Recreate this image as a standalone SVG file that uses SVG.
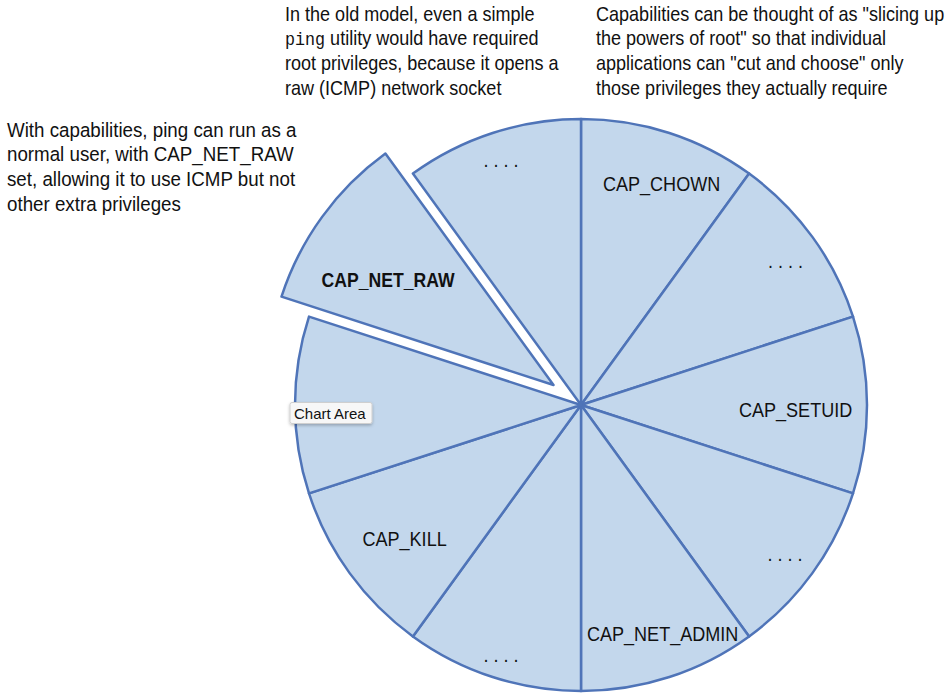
<svg xmlns="http://www.w3.org/2000/svg" width="952" height="695" viewBox="0 0 952 695">
<defs>
<style>
.sl{fill:#c3d7ec;stroke:#4f74b8;stroke-width:2.5;stroke-linejoin:round}
.t{font-family:"Liberation Sans",Arial,sans-serif;font-size:20.5px;fill:#111}
.lb{font-family:"Liberation Sans",Arial,sans-serif;font-size:20.5px;fill:#111}
.mid{text-anchor:middle}
.m{font-family:"Liberation Mono","Courier New",monospace;font-size:19px}
</style>
<filter id="sh" x="-20%" y="-30%" width="140%" height="170%"><feDropShadow dx="0" dy="1.5" stdDeviation="1.5" flood-color="#000" flood-opacity="0.25"/></filter>
</defs>
<rect width="952" height="695" fill="#fff"/>
<g id="pie">
<path id="s1" class="sl" d="M581,405 L581,119 A286,286 0 0 1 749.1,173.6 Z"/>
<path id="s2" class="sl" d="M581,405 L749.1,173.6 A286,286 0 0 1 853,316.6 Z"/>
<path id="s3" class="sl" d="M581,405 L853,316.6 A286,286 0 0 1 853,493.4 Z"/>
<path id="s4" class="sl" d="M581,405 L853,493.4 A286,286 0 0 1 749.1,636.4 Z"/>
<path id="s5" class="sl" d="M581,405 L749.1,636.4 A286,286 0 0 1 581,691 Z"/>
<path id="s6" class="sl" d="M581,405 L581,691 A286,286 0 0 1 412.9,636.4 Z"/>
<path id="s7" class="sl" d="M581,405 L412.9,636.4 A286,286 0 0 1 309,493.4 Z"/>
<path id="s8" class="sl" d="M581,405 L309,493.4 A286,286 0 0 1 309,316.6 Z"/>
<path id="s9" class="sl" d="M553.5,385 L281.5,296.6 A286,286 0 0 1 385.4,153.6 Z"/>
<path id="s10" class="sl" d="M581,405 L412.9,173.6 A286,286 0 0 1 581,119 Z"/>
</g>
<g id="labels">
<text class="lb" transform="translate(603,191) scale(0.88,1)">CAP_CHOWN</text>
<text class="lb mid" transform="translate(785.5,268) scale(0.88,1)">. . . .</text>
<text class="lb" transform="translate(739,417) scale(0.88,1)">CAP_SETUID</text>
<text class="lb mid" transform="translate(785,561) scale(0.88,1)">. . . .</text>
<text class="lb" transform="translate(587,640.5) scale(0.88,1)">CAP_NET_ADMIN</text>
<text class="lb mid" transform="translate(501,662) scale(0.88,1)">. . . .</text>
<text class="lb" transform="translate(362.5,545.5) scale(0.88,1)">CAP_KILL</text>
<text class="lb" font-weight="bold" transform="translate(321.5,286.5) scale(0.86,1)">CAP_NET_RAW</text>
<text class="lb mid" transform="translate(501,167) scale(0.88,1)">. . . .</text>
</g>
<g id="tooltip">
<rect x="290" y="402.5" width="82" height="21" rx="2" fill="#f7f7f7" stroke="#cfcfcf" filter="url(#sh)"/>
<text x="294" y="418.5" font-family="'Liberation Sans',Arial,sans-serif" font-size="15" fill="#111">Chart Area</text>
</g>
<g id="note-old">
<text class="t" transform="translate(285,20.5) scale(0.88,1)">In the old model, even a simple</text>
<text class="t" transform="translate(285,45) scale(0.88,1)"><tspan class="m">ping</tspan> utility would have required</text>
<text class="t" transform="translate(285,70) scale(0.88,1)">root privileges, because it opens a</text>
<text class="t" transform="translate(285,94.5) scale(0.88,1)">raw (ICMP) network socket</text>
</g>
<g id="note-cap">
<text class="t" transform="translate(596,20.5) scale(0.88,1)">Capabilities can be thought of as "slicing up</text>
<text class="t" transform="translate(596,45) scale(0.88,1)">the powers of root" so that individual</text>
<text class="t" transform="translate(596,70) scale(0.88,1)">applications can "cut and choose" only</text>
<text class="t" transform="translate(596,94.5) scale(0.88,1)">those privileges they actually require</text>
</g>
<g id="note-ping">
<text class="t" transform="translate(7,136.5) scale(0.915,1)">With capabilities, ping can run as a</text>
<text class="t" transform="translate(7,161) scale(0.915,1)">normal user, with CAP_NET_RAW</text>
<text class="t" transform="translate(7,186) scale(0.915,1)">set, allowing it to use ICMP but not</text>
<text class="t" transform="translate(7,210.5) scale(0.915,1)">other extra privileges</text>
</g>
</svg>
